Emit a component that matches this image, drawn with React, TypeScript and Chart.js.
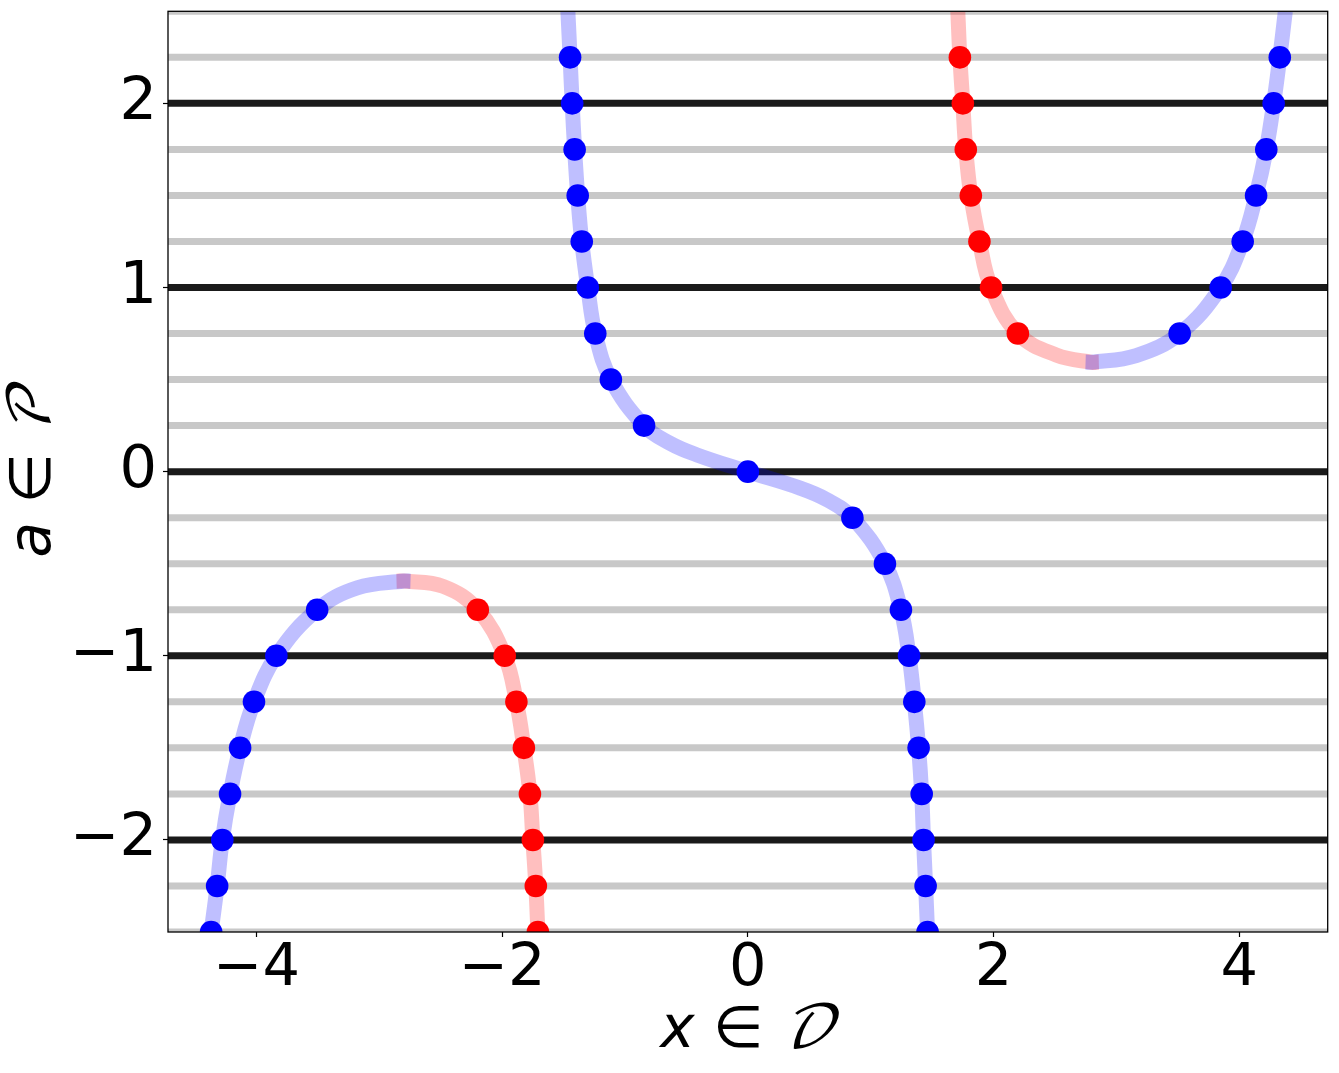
import React, { useEffect, useRef } from "react";
import { Chart, registerables } from "chart.js";

Chart.register(...registerables);

// ---- axis ranges & ticks ----
const X_MIN = -4.72;
const X_MAX = 4.72;
const A_MIN = -2.5;
const A_MAX = 2.5;
const X_TICKS = [-4, -2, 0, 2, 4];
const A_TICKS = [-2, -1, 0, 1, 2];

// ---- horizontal reference levels ----
const MAJOR_LEVELS = [-2, -1, 0, 1, 2];
const MINOR_LEVELS = [-2.5, -2.25, -1.75, -1.5, -1.25, -0.75, -0.5, -0.25, 0.25, 0.5, 0.75, 1.25, 1.5, 1.75, 2.25, 2.5];

// ---- curve branches (x, a) ----
const CENTER_X = [-1.465, -1.447, -1.43, -1.41, -1.385, -1.352, -1.303, -1.242, -1.115, -0.845, -0.636, -0.419, 0, 0.42, 0.64, 0.851, 1.116, 1.246, 1.312, 1.355, 1.39, 1.415, 1.43, 1.447, 1.463];
const CENTER_A = [2.5, 2.25, 2, 1.75, 1.5, 1.25, 1, 0.75, 0.5, 0.25, 0.155, 0.092, 0, -0.088, -0.151, -0.25, -0.5, -0.75, -1, -1.25, -1.5, -1.75, -2, -2.25, -2.5];

const LEFT_BLUE_X = [-4.369, -4.32, -4.278, -4.215, -4.133, -4.02, -3.838, -3.506, -3.18, -2.8, -2.746];
const LEFT_BLUE_A = [-2.5, -2.25, -2, -1.75, -1.5, -1.25, -1, -0.75, -0.631, -0.594, -0.595];
const LEFT_RED_X = [-2.86, -2.8, -2.48, -2.198, -1.979, -1.884, -1.823, -1.774, -1.75, -1.726, -1.709];
const LEFT_RED_A = [-0.595, -0.594, -0.623, -0.75, -1, -1.25, -1.5, -1.75, -2, -2.25, -2.5];

const RIGHT_RED_X = [1.709, 1.726, 1.75, 1.774, 1.815, 1.885, 1.98, 2.198, 2.51, 2.8, 2.857];
const RIGHT_RED_A = [2.5, 2.25, 2, 1.75, 1.5, 1.25, 1, 0.75, 0.634, 0.594, 0.595];
const RIGHT_BLUE_X = [2.749, 2.8, 3.161, 3.515, 3.849, 4.028, 4.137, 4.22, 4.28, 4.33, 4.375];
const RIGHT_BLUE_A = [0.595, 0.594, 0.63, 0.75, 1, 1.25, 1.5, 1.75, 2, 2.25, 2.5];

// ---- sample dots ----
const BLUE_DOT_X = [
  -1.447, -1.43, -1.41, -1.385, -1.352, -1.303, -1.242, -1.115, -0.845, 0, 0.851, 1.116, 1.246, 1.312, 1.355, 1.39, 1.415, 1.43, 1.447, 1.463,
  -4.369, -4.32, -4.278, -4.215, -4.133, -4.02, -3.838, -3.506,
  3.515, 3.849, 4.028, 4.137, 4.22, 4.28, 4.33,
];
const BLUE_DOT_A = [
  2.25, 2, 1.75, 1.5, 1.25, 1, 0.75, 0.5, 0.25, 0, -0.25, -0.5, -0.75, -1, -1.25, -1.5, -1.75, -2, -2.25, -2.5,
  -2.5, -2.25, -2, -1.75, -1.5, -1.25, -1, -0.75,
  0.75, 1, 1.25, 1.5, 1.75, 2, 2.25,
];
const RED_DOT_X = [
  1.726, 1.75, 1.774, 1.815, 1.885, 1.98, 2.198,
  -2.198, -1.979, -1.884, -1.823, -1.774, -1.75, -1.726, -1.709,
];
const RED_DOT_A = [
  2.25, 2, 1.75, 1.5, 1.25, 1, 0.75,
  -0.75, -1, -1.25, -1.5, -1.75, -2, -2.25, -2.5,
];

const zip = (xs: number[], ys: number[]) => xs.map((x, i) => ({ x, y: ys[i] }));
const fmt = (v: number) => (v < 0 ? "\u2212" + Math.abs(v) : String(v));

const BLUE_LINE = "rgba(0,0,255,0.25)";
const RED_LINE = "rgba(255,0,0,0.25)";
const TICK_FONT = { family: "'DejaVu Sans', sans-serif", size: 59, lineHeight: 1 };
const TITLE_FONT = { family: "'DejaVu Sans', 'DejaVu Math TeX Gyre', 'DejaVu Serif', sans-serif", size: 58, style: "italic" as const };

const framePlugin = {
  id: "frame",
  afterDatasetsDraw(chart: any) {
    const { ctx, chartArea } = chart;
    const { left, top, right, bottom } = chartArea;
    ctx.save();
    ctx.strokeStyle = "#000";
    ctx.lineWidth = 1.3;
    ctx.strokeRect(left, top, right - left, bottom - top);
    ctx.restore();
  },
};

export default function App() {
  const ref = useRef<HTMLCanvasElement>(null);

  useEffect(() => {
    const levelSet = (levels: number[], color: string, order: number) =>
      levels.map((v) => ({
        data: [{ x: X_MIN, y: v }, { x: X_MAX, y: v }],
        showLine: true,
        borderColor: color,
        borderWidth: 7,
        pointRadius: 0,
        clip: 0,
        order,
      }));
    const curve = (xs: number[], ys: number[], color: string, order: number) => ({
      data: zip(xs, ys),
      showLine: true,
      borderColor: color,
      borderWidth: 15,
      pointRadius: 0,
      tension: 0.4,
      clip: 0,
      order,
    });
    const dots = (xs: number[], ys: number[], color: string, order: number) => ({
      data: zip(xs, ys),
      showLine: false,
      pointRadius: 11.3,
      pointBackgroundColor: color,
      pointBorderWidth: 0,
      clip: 0,
      order,
    });

    const chart = new Chart(ref.current!, {
      type: "scatter",
      data: {
        datasets: [
          ...levelSet(MINOR_LEVELS, "#c8c8c8", 10),
          ...levelSet(MAJOR_LEVELS, "#1a1a1a", 9),
          curve(LEFT_RED_X, LEFT_RED_A, RED_LINE, 6),
          curve(RIGHT_RED_X, RIGHT_RED_A, RED_LINE, 6),
          curve(CENTER_X, CENTER_A, BLUE_LINE, 5),
          curve(LEFT_BLUE_X, LEFT_BLUE_A, BLUE_LINE, 5),
          curve(RIGHT_BLUE_X, RIGHT_BLUE_A, BLUE_LINE, 5),
          dots(RED_DOT_X, RED_DOT_A, "#ff0000", 2),
          dots(BLUE_DOT_X, BLUE_DOT_A, "#0000ff", 1),
        ] as any,
      },
      options: {
        animation: false,
        responsive: true,
        maintainAspectRatio: false,
        events: [],
        layout: { padding: { top: 9, right: 10, left: 0, bottom: 0 } },
        plugins: { legend: { display: false }, tooltip: { enabled: false } },
        scales: {
          x: {
            type: "linear",
            min: X_MIN,
            max: X_MAX,
            afterBuildTicks: (s: any) => {
              s.ticks = X_TICKS.map((v) => ({ value: v }));
            },
            afterFit: (s: any) => {
              s.height = 141;
              s.paddingLeft = 0;
              s.paddingRight = 0;
            },
            ticks: { callback: (v: any) => fmt(Number(v)), font: TICK_FONT, color: "#000", padding: 3, maxRotation: 0, autoSkip: false },
            grid: { drawOnChartArea: false, drawTicks: true, tickLength: 5, tickWidth: 1.2, tickColor: "#000" },
            border: { display: false },
            title: { display: true, text: "x \u2208 \uD835\uDC9F", font: TITLE_FONT, color: "#000", padding: { top: 0, bottom: 6 } },
          },
          y: {
            type: "linear",
            min: A_MIN,
            max: A_MAX,
            afterBuildTicks: (s: any) => {
              s.ticks = A_TICKS.map((v) => ({ value: v }));
            },
            afterFit: (s: any) => {
              s.width = 168;
              s.paddingTop = 0;
              s.paddingBottom = 0;
            },
            ticks: { callback: (v: any) => fmt(Number(v)), font: TICK_FONT, color: "#000", padding: 6, autoSkip: false },
            grid: { drawOnChartArea: false, drawTicks: true, tickLength: 5, tickWidth: 1.2, tickColor: "#000" },
            border: { display: false },
            title: { display: true, text: "a \u2208 \uD835\uDCAB", font: TITLE_FONT, color: "#000", padding: { top: 0, bottom: 0 } },
          },
        },
      },
      plugins: [framePlugin],
    });
    return () => chart.destroy();
  }, []);

  return (
    <div style={{ position: "fixed", left: 0, top: 0, width: 1339, height: 1073, background: "#fff" }}>
      <canvas ref={ref} />
    </div>
  );
}
